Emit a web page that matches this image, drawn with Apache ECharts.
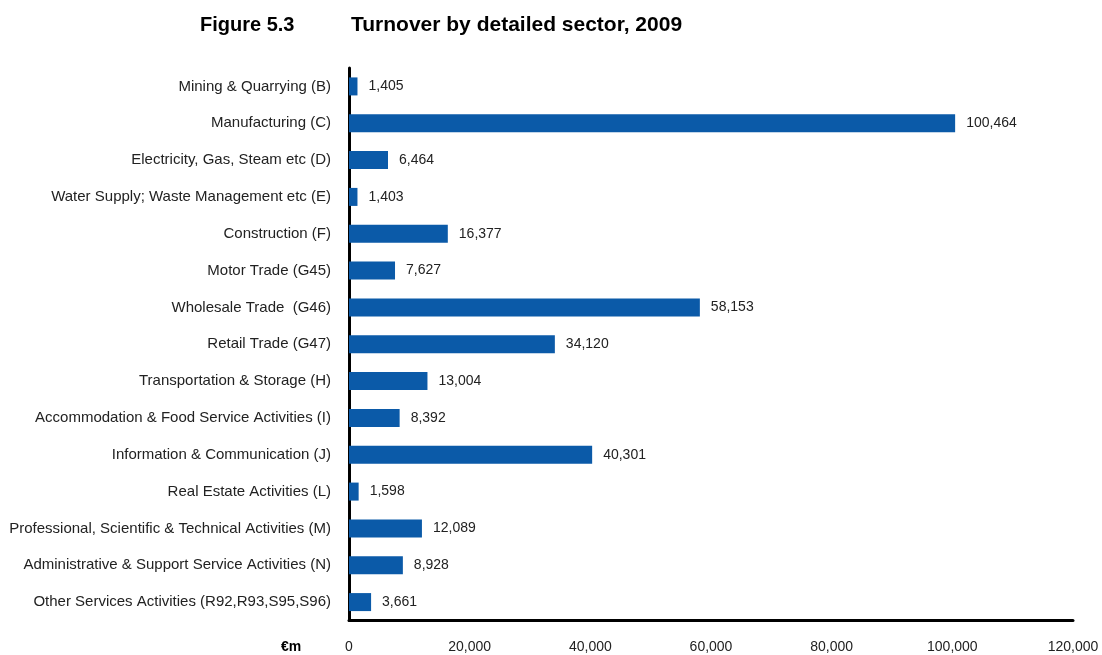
<!DOCTYPE html>
<html>
<head>
<meta charset="utf-8">
<script src="https://cdn.jsdelivr.net/npm/echarts@6/dist/echarts.min.js"></script>
<style>
  html, body { margin: 0; padding: 0; background: #fff; }
  #chart { width: 1102px; height: 655px; }
</style>
</head>
<body>
<div id="chart"></div>
<script>
// Sectors, top to bottom
const sectors = [
  'Mining & Quarrying (B)',
  'Manufacturing (C)',
  'Electricity, Gas, Steam etc (D)',
  'Water Supply; Waste Management etc (E)',
  'Construction (F)',
  'Motor Trade (G45)',
  'Wholesale Trade  (G46)',
  'Retail Trade (G47)',
  'Transportation & Storage (H)',
  'Accommodation & Food Service Activities (I)',
  'Information & Communication (J)',
  'Real Estate Activities (L)',
  'Professional, Scientific & Technical Activities (M)',
  'Administrative & Support Service Activities (N)',
  'Other Services Activities (R92,R93,S95,S96)'
];

// Turnover, €m
const turnover = [1405, 100464, 6464, 1403, 16377, 7627, 58153, 34120, 13004, 8392, 40301, 1598, 12089, 8928, 3661];

const axisMin = 0;
const axisMax = 120000;
const axisStep = 20000;

const fmt = v => v.toString().replace(/\B(?=(\d{3})+(?!\d))/g, ',');
const font = 'Liberation Sans, Arial, sans-serif';

const chart = echarts.init(document.getElementById('chart'), null, { renderer: 'canvas' });
chart.setOption({
  animation: false,
  backgroundColor: '#ffffff',
  title: [
    { text: 'Figure 5.3', left: 195, top: 10,
      textStyle: { fontFamily: font, fontSize: 20, fontWeight: 'bold', color: '#000' } },
    { text: 'Turnover by detailed sector, 2009', left: 346, top: 10,
      textStyle: { fontFamily: font, fontSize: 21, fontWeight: 'bold', color: '#000' } }
  ],
  graphic: [
    { type: 'text', left: 281, top: 640,
      style: { text: '€m', font: 'bold 14px ' + font, fill: '#000' } }
  ],
  grid: { left: 349, right: 29, top: 68, bottom: 34.5, containLabel: false },
  xAxis: {
    type: 'value',
    min: axisMin, max: axisMax, interval: axisStep,
    axisLine: { show: true, lineStyle: { color: '#000', width: 3 } },
    axisTick: { show: false },
    splitLine: { show: false },
    axisLabel: { formatter: fmt, margin: 20, fontFamily: font, fontSize: 14, color: '#222' }
  },
  yAxis: {
    type: 'category',
    inverse: true,
    data: sectors,
    axisLine: { show: true, lineStyle: { color: '#000', width: 3 } },
    axisTick: { show: false },
    axisLabel: { margin: 18, fontFamily: font, fontSize: 15, color: '#222' }
  },
  series: [{
    type: 'bar',
    data: turnover,
    barWidth: 18,
    itemStyle: { color: '#0b5aa8' },
    label: {
      show: true, position: 'right', distance: 11,
      formatter: p => fmt(p.value),
      fontFamily: font, fontSize: 14, color: '#222'
    }
  }]
});
</script>
</body>
</html>
